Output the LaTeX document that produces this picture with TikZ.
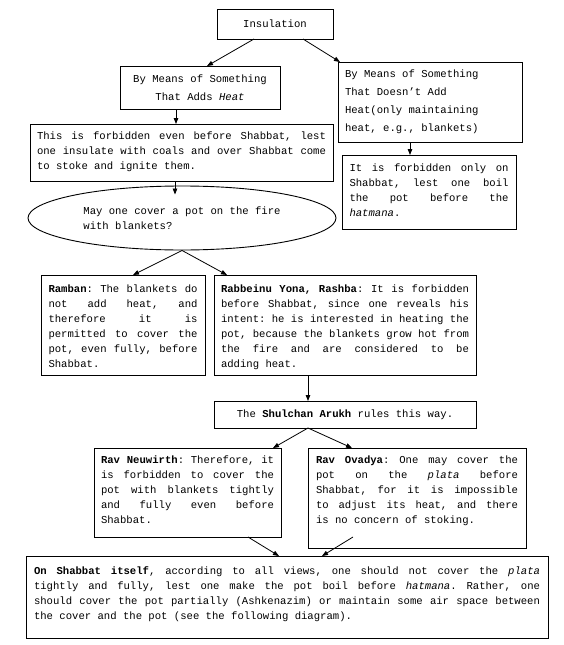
\documentclass[tikz,border=0pt]{standalone}
\usepackage{fontspec}
\setmainfont{Liberation Mono}
\usetikzlibrary{arrows.meta,shapes.geometric}
\newcommand\jl[1]{\hbox to\hsize{\frenchspacing\spaceskip=0.6em plus 1fil\relax #1}}
\newcommand\lastln[1]{\hbox to\hsize{#1\hfil}}
\newcommand\para[2]{\vtop{\hsize=#1\relax #2}}
\tikzset{
  frame/.style={draw, line width=0.9pt, inner sep=0pt, outer sep=0pt, anchor=north west},
  txt/.style={inner sep=0pt, outer sep=0pt, anchor=base west},
  fs/.style={font=\fontsize{10.6}{15}\selectfont},
  arr/.style={line width=0.8pt, -{Triangle[length=6pt,width=4.5pt]}},
}
\begin{document}
\begin{tikzpicture}[x=1pt,y=-1pt]
\useasboundingbox (0,0) rectangle (564,645);
\fill[white] (0,0) rectangle (564,645);

% top
\node[frame, minimum width=116, minimum height=30, fs] (ins) at (217,9) {Insulation};
\node[frame, minimum width=160, minimum height=43, align=center, font=\fontsize{10.6}{18}\selectfont] (a) at (120,66) {By Means of Something\\That Adds \textit{Heat}};
\node[frame, minimum width=184, minimum height=80] (b) at (338,62) {};
\node[txt, font=\fontsize{10.6}{18.3}\selectfont] (bt) at ([shift={(7,15)}]b.north west) {\para{170pt}{%
\lastln{By Means of Something}
\lastln{That Doesn’t Add}
\lastln{Heat(only maintaining}
\lastln{heat, e.g., blankets)}}};

% forbidden
\node[frame, minimum width=303, minimum height=57] (c) at (30,124) {};
\node[txt, fs] (ct) at ([shift={(7,15.5)}]c.north west) {\para{289pt}{%
\jl{This is forbidden even before Shabbat, lest}
\jl{one insulate with coals and over Shabbat come}
\lastln{to stoke and ignite them.}}};

\node[frame, minimum width=174, minimum height=74] (d) at (342,155) {};
\node[txt, fs] (dt) at ([shift={(7.5,16)}]d.north west) {\para{159pt}{%
\jl{It is forbidden only on}
\jl{Shabbat, lest one boil}
\jl{the pot before the}
\lastln{\textit{hatmana}.}}};

% question
\node[draw, ellipse, line width=0.9pt, minimum width=308, minimum height=64, inner sep=0pt, align=left, fs] (q) at (182,218) {May one cover a pot on the fire\\with blankets?};

% opinions
\node[frame, minimum width=164, minimum height=100] (ram) at (41,275) {};
\node[txt, fs] (ramt) at ([shift={(7.5,17)}]ram.north west) {\para{149pt}{%
\jl{\textbf{Ramban}: The blankets do}
\jl{not add heat, and}
\jl{therefore it is}
\jl{permitted to cover the}
\jl{pot, even fully, before}
\lastln{Shabbat.}}};

\node[frame, minimum width=262, minimum height=100] (rab) at (214,275) {};
\node[txt, fs] (rabt) at ([shift={(7,17)}]rab.north west) {\para{248pt}{%
\jl{\textbf{Rabbeinu Yona, Rashba}: It is forbidden}
\jl{before Shabbat, since one reveals his}
\jl{intent: he is interested in heating the}
\jl{pot, because the blankets grow hot from}
\jl{the fire and are considered to be}
\lastln{adding heat.}}};

\node[frame, minimum width=262, minimum height=27, fs] (sh) at (214,401) {The \textbf{Shulchan Arukh} rules this way.};

\node[frame, minimum width=187, minimum height=89] (neu) at (94,448) {};
\node[txt, fs] (neut) at ([shift={(7,15.5)}]neu.north west) {\para{173pt}{%
\jl{\textbf{Rav Neuwirth}: Therefore, it}
\jl{is forbidden to cover the}
\jl{pot with blankets tightly}
\jl{and fully even before}
\lastln{Shabbat.}}};

\node[frame, minimum width=218, minimum height=100] (ov) at (308,448) {};
\node[txt, fs] (ovt) at ([shift={(8,15.5)}]ov.north west) {\para{202pt}{%
\jl{\textbf{Rav Ovadya}: One may cover the}
\jl{pot on the \textit{plata} before}
\jl{Shabbat, for it is impossible}
\jl{to adjust its heat, and there}
\lastln{is no concern of stoking.}}};

\node[frame, minimum width=522, minimum height=82] (bot) at (26,556) {};
\node[txt, fs] (bott) at ([shift={(8,18.5)}]bot.north west) {\para{506pt}{%
\jl{\textbf{On Shabbat itself}, according to all views, one should not cover the \textit{plata}}
\jl{tightly and fully, lest one make the pot boil before \textit{hatmana}. Rather, one}
\jl{should cover the pot partially (Ashkenazim) or maintain some air space between}
\lastln{the cover and the pot (see the following diagram).}}};

% connectors
\draw[arr] ([xshift=37pt]ins.south west) -- ([xshift=87pt]a.north west);
\draw[arr] ([xshift=86pt]ins.south west) -- ([xshift=2pt]b.north west);
\draw[arr] ([xshift=56pt]a.south west) -- ([xshift=146pt]c.north west);
\draw[arr] ([xshift=72pt]b.south west) -- ([xshift=68pt]d.north west);
\draw[arr] ([xshift=145pt]c.south west) -- ([xshift=-7pt,yshift=-9pt]q.north);
\draw[arr] (q.south) -- ([xshift=92pt]ram.north west);
\draw[arr] (q.south) -- ([xshift=13pt]rab.north west);
\draw[arr] ([xshift=94pt]rab.south west) -- ([xshift=94pt]sh.north west);
\draw[arr] ([xshift=94pt]sh.south west) -- ([xshift=179pt]neu.north west);
\draw[arr] ([xshift=94pt]sh.south west) -- ([xshift=44pt]ov.north west);
\draw[arr] ([xshift=154pt]neu.south west) -- ([xshift=253pt]bot.north west);
\draw[arr] ([xshift=45pt,yshift=11pt]ov.south west) -- ([xshift=296pt]bot.north west);
\end{tikzpicture}
\end{document}
